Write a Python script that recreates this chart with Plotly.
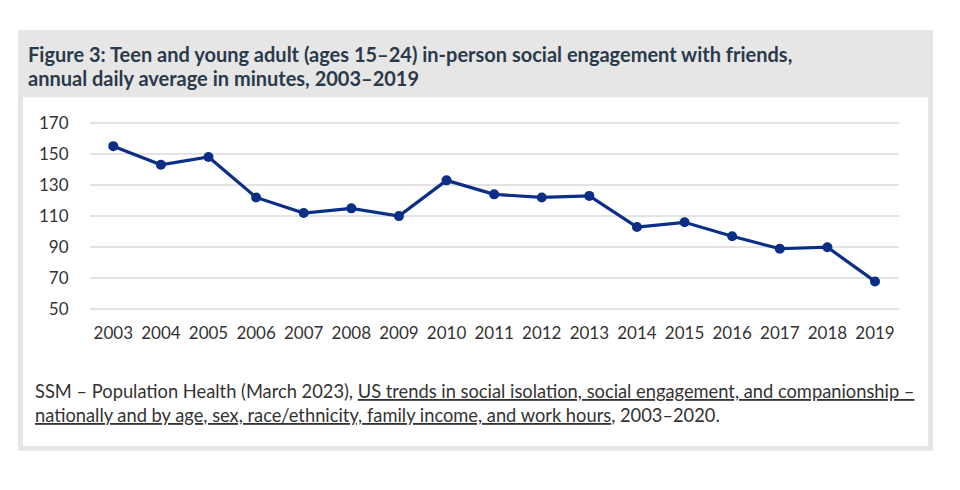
import plotly.graph_objects as go

years = list(range(2003, 2020))
minutes = [155, 143, 148, 122, 112, 115, 110, 133, 124, 122, 123, 103, 106, 97, 89, 90, 68]
y_ticks = [50, 70, 90, 110, 130, 150, 170]

title_lines = [
    "<b>Figure 3: Teen and young adult (ages 15–24) in-person social engagement with friends,</b>",
    "<b>annual daily average in minutes, 2003–2019</b>",
]
caption_lines = [
    "SSM – Population Health (March 2023), <u>US trends in social isolation, social engagement, and companionship –</u>",
    "<u>nationally and by age, sex, race/ethnicity, family income, and work hours</u>, 2003–2020.",
]

# The page keeps the browser's default 8px body margin, so the figure is
# 944x474 and sits at (8, 8) in the 960x490 window.
OFF = 8
W, H = 960 - 2 * OFF, 490 - 2 * OFF
def px(x):
    return (x - OFF) / W
def py(y):
    return 1 - (y - OFF) / H

fig = go.Figure()
fig.add_trace(go.Scatter(
    x=years, y=minutes, mode="lines+markers",
    line=dict(color="#0b2f87", width=3.2),
    marker=dict(color="#0b2f87", size=10),
    hoverinfo="x+y", showlegend=False,
))

annotations = []
for txt, yc in zip(title_lines, [47, 72]):
    annotations.append(dict(text=txt, xref="paper", yref="paper", x=px(26), y=py(yc),
                            xanchor="left", yanchor="middle", align="left", showarrow=False,
                            font=dict(family="Lato, sans-serif", size=20, color="#2b3a4a")))
for txt, yc in zip(caption_lines, [395, 420]):
    annotations.append(dict(text=txt, xref="paper", yref="paper", x=px(33), y=py(yc),
                            xanchor="left", yanchor="middle", align="left", showarrow=False,
                            font=dict(family="Lato, sans-serif", size=18.3, color="#333333")))

fig.update_layout(
    width=W, height=H,
    margin=dict(l=0, r=0, t=0, b=0),
    paper_bgcolor="white", plot_bgcolor="rgba(0,0,0,0)",
    font=dict(family="Lato, 'Source Sans Pro', sans-serif", color="#333333", size=17),
    xaxis=dict(
        domain=[px(89.5), px(898.8)], range=[2002.5, 2019.5],
        tickmode="array", tickvals=years, ticktext=[str(y) for y in years],
        showgrid=False, zeroline=False, showline=False,
        ticks="", ticklabelstandoff=8, tickfont=dict(size=17, color="#333333"),
    ),
    yaxis=dict(
        domain=[py(314.2), py(115.1)], range=[48, 172],
        tickmode="array", tickvals=y_ticks,
        showgrid=True, gridcolor="#e3e3e3", gridwidth=1.5, zeroline=False, showline=False,
        ticks="", ticklabelstandoff=20, tickfont=dict(size=17, color="#333333"),
    ),
    shapes=[
        dict(type="rect", xref="paper", yref="paper", layer="below",
             x0=px(18), x1=px(933), y0=py(457), y1=py(22.5),
             fillcolor="#e6e6e6", line=dict(width=0)),
        dict(type="rect", xref="paper", yref="paper", layer="below",
             x0=px(23), x1=px(928), y0=py(452), y1=py(92),
             fillcolor="white", line=dict(width=0)),
    ],
    annotations=annotations,
)

fig.write_html("out.html", config={"displayModeBar": False})
